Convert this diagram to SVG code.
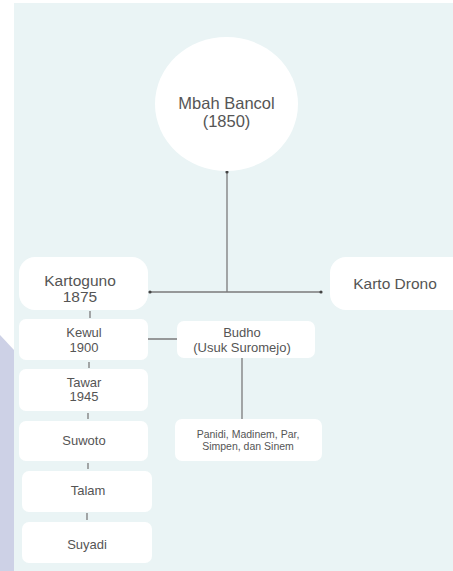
<svg xmlns="http://www.w3.org/2000/svg" width="453" height="571" viewBox="0 0 453 571">
<style>
.box{fill:#ffffff}
.t{font-family:"Liberation Sans",Arial,sans-serif;fill:#555555;text-anchor:middle}
.big{font-size:15.5px}
.mid{font-size:13px}
.sm{font-size:10.5px}
.ln{stroke:#7a7a7a;stroke-width:1.3;fill:none}
.dot{fill:#444444}
</style>
<rect x="0" y="0" width="453" height="571" fill="#ffffff"/>
<polygon points="0,335 14,350 14,571 0,571" fill="#cdd1e6"/>
<rect x="14" y="3" width="439" height="568" fill="#eaf4f5"/>
<g id="connectors">
<line class="ln" x1="227" y1="172" x2="227" y2="292"/>
<line class="ln" x1="150" y1="292" x2="321" y2="292"/>
<circle class="dot" cx="227" cy="172" r="1.6"/>
<circle class="dot" cx="150" cy="292" r="1.6"/>
<circle class="dot" cx="321" cy="292" r="1.6"/>
<line class="ln" x1="90" y1="311" x2="90" y2="318"/>
<line class="ln" x1="146" y1="339" x2="180" y2="339"/>
<circle class="dot" cx="146" cy="339" r="1.5"/>
<circle class="dot" cx="180" cy="339" r="1.5"/>
<line class="ln" x1="89" y1="362" x2="89" y2="368"/>
<line class="ln" x1="88" y1="413" x2="88" y2="419"/>
<line class="ln" x1="88" y1="463" x2="88" y2="469"/>
<line class="ln" x1="87" y1="513" x2="87" y2="520"/>
<line class="ln" x1="242" y1="358" x2="242" y2="419"/>
</g>
<g id="mbah-bancol">
<ellipse class="box" cx="226.5" cy="104" rx="71.5" ry="67"/>
<text class="t" x="226.5" y="109" font-size="16.5">Mbah Bancol</text>
<text class="t" x="226.5" y="127" font-size="16.5">(1850)</text>
</g>
<g id="kartoguno">
<rect class="box" x="19" y="257" width="129" height="53" rx="16"/>
<text class="t big" x="80" y="285.5">Kartoguno</text>
<text class="t big" x="80" y="301.5">1875</text>
</g>
<g id="karto-drono">
<rect class="box" x="330" y="257" width="140" height="53" rx="16"/>
<text class="t big" x="395" y="288.5">Karto Drono</text>
</g>
<g id="kewul">
<rect class="box" x="19" y="319" width="129" height="41" rx="7"/>
<text class="t mid" x="84" y="336.5">Kewul</text>
<text class="t mid" x="84" y="351.5">1900</text>
</g>
<g id="budho">
<rect class="box" x="177" y="321" width="138" height="37" rx="7"/>
<text class="t mid" x="242" y="336.5">Budho</text>
<text class="t mid" x="242" y="351.5">(Usuk Suromejo)</text>
</g>
<g id="anak-budho">
<rect class="box" x="175" y="419" width="147" height="42" rx="7"/>
<text class="t sm" x="248" y="437.5">Panidi, Madinem, Par,</text>
<text class="t sm" x="248" y="449.5">Simpen, dan Sinem</text>
</g>
<g id="tawar">
<rect class="box" x="19" y="369" width="129" height="42" rx="7"/>
<text class="t mid" x="84" y="386.5">Tawar</text>
<text class="t mid" x="84" y="400.5">1945</text>
</g>
<g id="suwoto">
<rect class="box" x="19" y="421" width="129" height="40" rx="7"/>
<text class="t mid" x="84" y="444.5">Suwoto</text>
</g>
<g id="talam">
<rect class="box" x="22" y="471" width="130" height="41" rx="7"/>
<text class="t mid" x="88" y="494.5">Talam</text>
</g>
<g id="suyadi">
<rect class="box" x="22" y="522" width="130" height="41" rx="7"/>
<text class="t mid" x="87" y="548.5">Suyadi</text>
</g>
</svg>
